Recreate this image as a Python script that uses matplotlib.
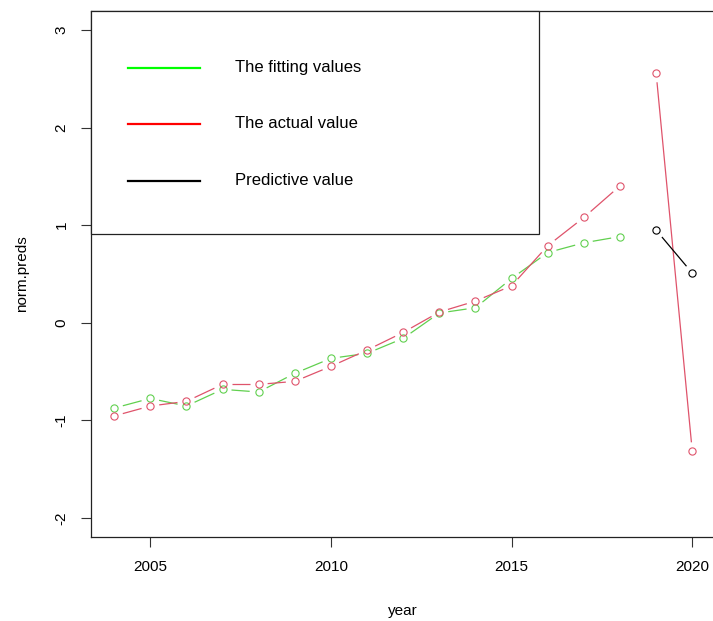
import matplotlib
matplotlib.use("Agg")
import matplotlib.pyplot as plt
from matplotlib.patches import Rectangle
import numpy as np

plt.rcParams['font.family'] = ['Liberation Sans', 'DejaVu Sans']
plt.rcParams['axes.unicode_minus'] = False

# fitted values (training years)
fit_years = [2004, 2005, 2006, 2007, 2008, 2009, 2010, 2011, 2012, 2013, 2014, 2015, 2016, 2017, 2018]
fit_vals = [-0.875, -0.776, -0.854, -0.683, -0.710, -0.519, -0.365, -0.314, -0.160, 0.100, 0.154, 0.454, 0.720, 0.820, 0.884]

# actual values, training part and test part
act_years = [2004, 2005, 2006, 2007, 2008, 2009, 2010, 2011, 2012, 2013, 2014, 2015, 2016, 2017, 2018]
act_vals = [-0.956, -0.854, -0.806, -0.632, -0.632, -0.601, -0.447, -0.280, -0.099, 0.110, 0.222, 0.379, 0.790, 1.080, 1.404]
test_years = [2019, 2020]
test_vals = [2.558, -1.318]

# predictions
pred_years = [2019, 2020]
pred_vals = [0.950, 0.509]

legend_labels = ["The fitting values", "The actual value", "Predictive value"]
legend_colors = ["#00FF00", "#FF0000", "#000000"]

R_RED = "#DF536B"
R_GREEN = "#61D04F"

W, H = 713, 621
fig = plt.figure(figsize=(W / 100, H / 100), dpi=100)
ax = fig.add_axes([91 / W, (H - 537.3) / H, 624.4 / W, 526.6 / H])
ax.set_xlim(2003.36, 2020.64)
ax.set_ylim(-2.2, 3.2)


def type_b(ax, xs, ys, color, gap_px=9.0, lw=0.9):
    """Points joined by lines with a gap around each point (like R's type='b')."""
    xs = np.asarray(xs, float)
    ys = np.asarray(ys, float)
    trans = ax.transData
    pts = trans.transform(np.column_stack([xs, ys]))
    inv = trans.inverted()
    for p0, p1 in zip(pts[:-1], pts[1:]):
        d = p1 - p0
        L = np.hypot(*d)
        if L <= 2 * gap_px:
            continue
        u = d / L
        a = inv.transform(p0 + u * gap_px)
        b = inv.transform(p1 - u * gap_px)
        ax.plot([a[0], b[0]], [a[1], b[1]], color=color, lw=lw, solid_capstyle='butt')
    ax.plot(xs, ys, linestyle='none', marker='o', markersize=5.2,
            markerfacecolor='none', markeredgecolor=color, markeredgewidth=0.8)


fig.canvas.draw()
type_b(ax, fit_years, fit_vals, R_GREEN)
type_b(ax, act_years, act_vals, R_RED)
type_b(ax, test_years, test_vals, R_RED)
type_b(ax, pred_years, pred_vals, "#000000")

# axes styling
ax.set_xticks([2005, 2010, 2015, 2020])
ax.set_yticks([-2, -1, 0, 1, 2, 3])
ax.tick_params(axis='both', length=7.2, width=0.8, labelsize=11, color='#333333')
ax.tick_params(axis='x', pad=9)
ax.tick_params(axis='y', pad=9)
for lbl in ax.get_yticklabels():
    lbl.set_rotation(90)
    lbl.set_va('center')
for s in ax.spines.values():
    s.set_linewidth(0.9)
    s.set_color('#222222')

ax.set_xlabel("year", fontsize=11, labelpad=22)
ax.set_ylabel("norm.preds", fontsize=11, labelpad=18)

# legend box
box = Rectangle((0, 0.576), 0.7175, 0.424, transform=ax.transAxes,
                facecolor='white', edgecolor='#222222', lw=0.9, zorder=5, clip_on=False)
ax.add_patch(box)
rows = [0.8916, 0.785, 0.6768]
for y, lab, col in zip(rows, legend_labels, legend_colors):
    ax.plot([0.0594, 0.175], [y, y], transform=ax.transAxes, color=col, lw=1.6, zorder=6)
    ax.text(0.231, y, lab, transform=ax.transAxes, fontsize=12, va='center', ha='left', zorder=6)

fig.savefig("out.png", dpi=100)
